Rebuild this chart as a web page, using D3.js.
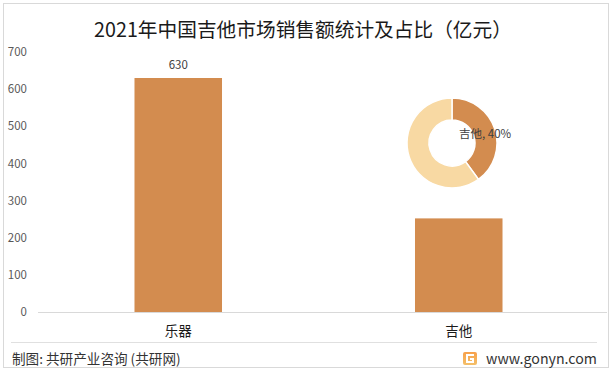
<!DOCTYPE html>
<html><head><meta charset="utf-8">
<script src="https://cdn.jsdelivr.net/npm/d3@7"></script>
<style>
html,body{margin:0;padding:0;background:#fff;}
svg{display:block;}
text{font-family:"Noto Sans CJK SC","Noto Sans",sans-serif;}
</style></head>
<body>
<script>
const title = "2021年中国吉他市场销售额统计及占比（亿元）";
const categories = ["乐器", "吉他"];
const values = [630, 252];
const valueLabels = ["630", ""];
const yTicks = [0, 100, 200, 300, 400, 500, 600, 700];
const pieLabels = ["吉他", "其他"];
const pieShares = [40, 60];
const footerLeft = "制图: 共研产业咨询 (共研网)";
const footerRight = "www.gonyn.com";

const W = 613, H = 372;
const svg = d3.select("body").append("svg").attr("width", W).attr("height", H);

svg.append("rect").attr("x", 3.5).attr("y", 3.5).attr("width", 605).attr("height", 364)
  .attr("fill", "#fff").attr("stroke", "#d9d9d9").attr("stroke-width", 1);

svg.append("text").attr("x", 303).attr("y", 37).attr("text-anchor", "middle")
  .attr("font-size", 19.7).attr("fill", "#1a1a1a").text(title);

const y = d3.scaleLinear().domain([0, 700]).range([312, 52]);
const x = d3.scaleBand().domain(categories).range([38, 599]).paddingInner(0.688).paddingOuter(0.344);

// y axis labels
const yAxis = d3.axisLeft(y).tickValues(yTicks).tickSize(0).tickPadding(0);
const yg = svg.append("g").attr("transform", "translate(27,0)").call(yAxis);
yg.select(".domain").remove();
yg.selectAll("text").attr("font-size", 11.5).attr("fill", "#595959")
  .attr("font-family", "'Liberation Sans','Noto Sans',sans-serif");

// bars
svg.selectAll("rect.bar").data(values).enter().append("rect").attr("class", "bar")
  .attr("x", (d, i) => x(categories[i])).attr("width", x.bandwidth())
  .attr("y", d => y(d)).attr("height", d => y(0) - y(d)).attr("fill", "#D38C4F");

svg.selectAll("text.vl").data(values).enter().append("text").attr("class", "vl")
  .attr("x", (d, i) => x(categories[i]) + x.bandwidth() / 2).attr("y", d => y(d) - 9)
  .attr("text-anchor", "middle").attr("font-size", 11.5).attr("fill", "#404040")
  .attr("font-family", "'Liberation Sans','Noto Sans',sans-serif")
  .text((d, i) => valueLabels[i]);

// x axis
const xAxis = d3.axisBottom(x).tickSize(0).tickPadding(14);
const xg = svg.append("g").attr("transform", "translate(0,312)").call(xAxis);
xg.select(".domain").remove();
xg.selectAll("text").attr("font-size", 13.5).attr("fill", "#1a1a1a");
svg.append("line").attr("x1", 38).attr("x2", 607).attr("y1", 312.5).attr("y2", 312.5)
  .attr("stroke", "#d9d9d9");

// donut
const pie = d3.pie().sort(null)(pieShares);
const arc = d3.arc().innerRadius(23).outerRadius(45);
const pg = svg.append("g").attr("transform", "translate(452,143)");
pg.selectAll("path").data(pie).enter().append("path").attr("d", arc)
  .attr("fill", (d, i) => i === 0 ? "#D38C4F" : "#F8D9A3")
  .attr("stroke", "#fff").attr("stroke-width", 1.5);
svg.append("text").attr("x", 459).attr("y", 138).attr("font-size", 11.5).attr("fill", "#404040")
  .text(pieLabels[0] + ", " + pieShares[0] + "%");

// footer
svg.append("line").attr("x1", 11).attr("x2", 597).attr("y1", 342.5).attr("y2", 342.5)
  .attr("stroke", "#e0e0e0");
svg.append("text").attr("x", 12).attr("y", 364).attr("font-size", 13.6).attr("fill", "#333")
  .text(footerLeft);
svg.append("text").attr("x", 597).attr("y", 364).attr("text-anchor", "end").attr("font-size", 14.2)
  .attr("fill", "#333").attr("font-family", "'Liberation Sans','Noto Sans',sans-serif").text(footerRight);

// logo
const grad = svg.append("defs").append("linearGradient").attr("id", "lg").attr("x1", 0).attr("y1", 0).attr("x2", 0).attr("y2", 1);
grad.append("stop").attr("offset", 0).attr("stop-color", "#F7A04A");
grad.append("stop").attr("offset", 1).attr("stop-color", "#F4C06A");
const lg = svg.append("g").attr("transform", "translate(463,352)");
lg.append("rect").attr("width", 14).attr("height", 13).attr("rx", 2).attr("fill", "url(#lg)");
lg.append("path").attr("d", "M11,3 H4 V10 H10 V7 H7").attr("fill", "none").attr("stroke", "#fff").attr("stroke-width", 2);
</script>
</body></html>
